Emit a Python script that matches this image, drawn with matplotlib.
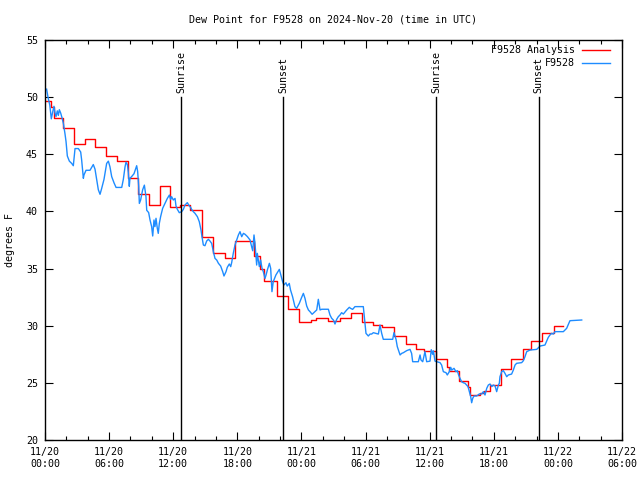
import matplotlib
matplotlib.use("Agg")
import matplotlib.pyplot as plt
import numpy as np

# ---- data (hours since 2024-11-20 00:00 UTC) ----
analysis_h = [0.0, 0.6, 0.8, 1.7, 2.7, 3.75, 4.7, 5.75, 6.7, 7.8, 8.74, 9.7, 10.75, 11.7,
              12.6, 13.6, 14.7, 15.7, 16.8, 17.75, 19.6, 20.1, 20.5, 21.7, 22.7, 23.8, 24.9,
              25.4, 26.5, 27.6, 28.6, 29.7, 30.7, 31.5, 32.7, 33.8, 34.7, 35.5, 36.6, 37.6,
              37.8, 38.7, 39.6, 39.8, 40.7, 41.1, 41.6, 42.7, 43.6, 44.7, 45.5, 46.5, 47.6, 48.45]
analysis_t = [49.7, 49.1, 48.2, 47.3, 45.9, 46.3, 45.6, 44.85, 44.4, 42.9, 41.5, 40.6, 42.2, 40.4,
              40.6, 40.1, 37.8, 36.4, 35.9, 37.4, 36.1, 35.0, 33.9, 32.6, 31.5, 30.35, 30.5,
              30.64, 30.45, 30.64, 31.14, 30.35, 30.06, 29.86, 29.1, 28.37, 27.93, 27.79, 27.1, 26.4,
              26.06, 25.16, 24.66, 23.94, 24.1, 24.3, 24.8, 26.2, 27.06, 27.93, 28.66, 29.33, 30.0, 30.0]

obs_h = [0.15, 0.28, 0.45, 0.59, 0.72, 0.84, 0.94, 1.03, 1.15, 1.25, 1.34, 1.47, 1.59, 1.72,
         1.87, 1.97, 2.09, 2.28, 2.5, 2.65, 2.81, 3.12, 3.34, 3.43, 3.59, 3.65, 3.84, 4.21,
         4.52, 4.68, 4.84, 4.99, 5.15, 5.3, 5.52, 5.77, 5.93, 6.08, 6.24, 6.46, 6.65, 7.18,
         7.33, 7.49, 7.58, 7.71, 7.8, 7.89, 7.95, 8.11, 8.33, 8.58, 8.67, 8.77, 8.83, 8.95,
         9.14, 9.3, 9.45, 9.52, 9.7, 9.83, 9.98, 10.08, 10.2, 10.29, 10.39, 10.51, 10.6, 10.7,
         10.82, 11.01, 11.23, 11.45, 11.64, 11.76, 11.85, 12.01, 12.17, 12.26, 12.39, 12.57,
         12.79, 12.95, 13.1, 13.32, 13.51, 13.63, 13.72, 13.88, 14.04, 14.26, 14.44, 14.6,
         14.69, 14.82, 14.97, 15.13, 15.29, 15.44, 15.6, 15.76, 15.91, 16.07, 16.23, 16.44,
         16.63, 16.75, 16.94, 17.06, 17.25, 17.38, 17.47, 17.62, 17.78, 17.94, 18.1, 18.25,
         18.41, 18.57, 18.72, 18.94, 19.19, 19.34, 19.44, 19.56, 19.65, 19.75, 19.81, 19.87,
         19.96, 20.06, 20.18, 20.31, 20.43, 20.59, 20.69, 20.81, 21.0, 21.12, 21.24, 21.36,
         21.61, 21.93, 22.05, 22.24, 22.36, 22.55, 22.67, 22.86, 22.98, 23.17, 23.39, 23.55,
         23.8, 24.02, 24.18, 24.33, 24.49, 24.65, 24.8, 25.0, 25.43, 25.58, 25.74, 25.9,
         26.52, 26.67, 26.83, 26.99, 27.14, 27.3, 27.45, 27.61, 27.76, 27.92, 28.23, 28.48,
         28.6, 28.79, 29.01, 29.79, 29.95, 30.04, 30.26, 30.42, 30.57, 30.73, 30.98, 31.2,
         31.35, 31.51, 31.66, 32.54, 32.66, 32.85, 32.97, 33.23, 33.38, 33.54, 33.85, 34.16,
         34.31, 34.41, 34.94, 35.1, 35.19, 35.35, 35.56, 35.72, 36.03, 36.15, 36.28, 36.35,
         36.5, 36.66, 36.97, 37.12, 37.28, 37.53, 37.65, 37.84, 37.97, 38.06, 38.15, 38.28,
         38.46, 38.59, 38.71, 38.84, 38.99, 39.15, 39.31, 39.46, 39.59, 39.71, 39.84, 39.93,
         40.03, 40.15, 40.4, 40.65, 40.87, 41.03, 41.18, 41.34, 41.49, 41.65, 41.81, 41.96,
         42.12, 42.27, 42.43, 42.52, 42.58, 42.74, 42.89, 43.05, 43.21, 43.36, 43.67, 43.83,
         43.99, 44.14, 44.61, 44.77, 44.92, 45.08, 45.39, 46.02, 46.33, 46.79, 47.1, 47.26,
         47.42, 47.57, 47.73, 48.51, 48.82, 49.13, 50.23]
obs_t = [50.7, 50.0, 49.3, 48.1, 48.7, 49.2, 48.6, 48.3, 48.8, 48.4, 48.9, 48.6, 48.2, 47.7,
         46.8, 46.1, 44.85, 44.4, 44.2, 44.0, 45.5, 45.5, 45.2, 44.5, 42.9, 43.2, 43.6, 43.6,
         44.1, 43.7, 42.8, 41.9, 41.5, 42.0, 42.8, 44.2, 44.4, 43.9, 43.05, 42.5, 42.1, 42.1,
         42.8, 43.9, 44.3, 44.1, 43.4, 42.2, 42.9, 43.05, 43.3, 44.0, 43.5, 42.2, 40.7, 41.0,
         41.9, 42.3, 41.3, 40.1, 39.9, 39.25, 38.67, 37.85, 39.25, 38.67, 39.4, 38.52, 38.08, 38.96,
         39.54, 40.27, 40.7, 41.14, 41.43, 41.05, 41.29, 41.0, 41.14, 40.47, 40.18, 39.89,
         39.98, 40.18, 40.56, 40.77, 40.47, 40.35, 40.18, 39.98, 39.83, 39.54, 39.1, 38.37,
         37.79, 37.06, 37.0, 37.41, 37.56, 37.41, 37.2, 36.47, 35.89, 35.75, 35.46, 35.22,
         34.73, 34.35, 34.73, 35.11, 35.4, 35.17, 35.52, 36.33, 37.06, 37.5, 37.94, 38.23,
         37.79, 38.08, 38.0, 37.8, 37.5, 36.91, 36.56, 37.94, 37.2, 36.04, 35.31, 36.33,
         35.75, 35.17, 35.75, 35.02, 34.73, 34.14, 34.44, 34.88, 35.46, 35.02, 32.98, 33.85,
         34.44, 34.93, 34.5, 33.85, 33.56, 33.76, 33.47, 33.7, 33.12, 32.54, 31.67, 31.52,
         31.96, 32.48, 32.83, 32.4, 31.73, 31.38, 31.23, 31.0, 31.38, 32.31, 31.38, 31.44,
         31.44, 30.94, 30.65, 30.5, 30.15, 30.56, 30.79, 30.94, 31.14, 31.02, 31.37, 31.61,
         31.52, 31.43, 31.67, 31.67, 30.21, 29.33, 29.1, 29.27, 29.27, 29.39, 29.33, 29.27,
         30.06, 29.33, 28.81, 28.81, 29.39, 28.81, 28.17, 27.44, 27.58, 27.64, 27.82, 27.93,
         27.58, 26.85, 26.85, 27.44, 27.0, 26.85, 27.73, 26.85, 26.9, 27.9, 27.5, 27.8,
         26.9, 26.85, 26.77, 26.56, 25.98, 25.89, 25.69, 25.98, 26.36, 26.12, 26.18, 26.27,
         25.98, 26.07, 25.69, 25.39, 25.1, 25.01, 24.96, 24.81, 24.67, 24.23, 23.79, 23.26,
         23.65, 23.85, 23.85, 24.03, 24.03, 24.23, 23.94, 24.52, 24.81, 24.9, 24.67, 24.81,
         24.73, 24.23, 24.81, 24.96, 25.54, 25.98, 26.07, 25.83, 25.54, 25.69, 25.77, 26.12,
         26.56, 26.71, 26.77, 26.94, 27.29, 27.73, 27.87, 27.93, 28.22, 28.31, 28.98, 29.19,
         29.33, 29.27, 29.48, 29.48, 29.77, 30.44, 30.5]

sun_h = [12.75, 22.3, 36.63, 46.2]
sun_labels = ["Sunrise", "Sunset", "Sunrise", "Sunset"]

tick_h = [0, 6, 12, 18, 24, 30, 36, 42, 48, 54]
tick_labels = ["11/20\n00:00", "11/20\n06:00", "11/20\n12:00", "11/20\n18:00",
               "11/21\n00:00", "11/21\n06:00", "11/21\n12:00", "11/21\n18:00",
               "11/22\n00:00", "11/22\n06:00"]
y_ticks = [20, 25, 30, 35, 40, 45, 50, 55]

FONT = "DejaVu Sans Mono"
FS = 7.2

fig = plt.figure(figsize=(6.4, 4.8), dpi=100)
ax = fig.add_axes([45/640, 40/480, 577/640, 400/480])

ax.plot(analysis_h, analysis_t, color="#ff0000", lw=1.0, drawstyle="steps-post")
ax.plot(obs_h, obs_t, color="#1e8cff", lw=1.0)

for h, lab in zip(sun_h, sun_labels):
    ax.plot([h, h], [20, 50], color="black", lw=1.0)
    ax.text(h, 50.4, lab, rotation=90, ha="center", va="bottom",
            fontsize=FS, family=FONT)

ax.set_xlim(0, 54)
ax.set_ylim(20, 55)
ax.set_xticks(tick_h)
ax.set_xticklabels(tick_labels, fontsize=FS, family=FONT)
ax.set_xticks(np.arange(0, 55, 2), minor=True)
ax.set_yticks(y_ticks)
ax.set_yticklabels([str(v) for v in y_ticks], fontsize=FS, family=FONT)
ax.tick_params(which="major", direction="in", length=6, width=0.8,
               top=True, right=True, pad=5)
ax.tick_params(which="minor", direction="in", length=3, width=0.8,
               top=True, right=False)
ax.tick_params(axis="y", which="minor", left=False, right=False)
for s in ax.spines.values():
    s.set_linewidth(1.0)

ax.set_ylabel("degrees F", fontsize=FS, family=FONT, labelpad=8)
fig.text(333/640, 1 - 20/480, "Dew Point for F9528 on 2024-Nov-20 (time in UTC)",
         ha="center", va="center", fontsize=FS, family=FONT)

# legend (gnuplot style, right-aligned text)
leg_rows = [("F9528 Analysis", "#ff0000", 50), ("F9528", "#1e8cff", 63)]
for text, col, ypix in leg_rows:
    yf = 1 - ypix / 480
    fig.text(575/640, yf, text, ha="right", va="center", fontsize=FS, family=FONT)
    fig.add_artist(plt.Line2D([582/640, 610/640], [yf, yf], color=col, lw=1.0))

fig.savefig("out.png", dpi=100)
